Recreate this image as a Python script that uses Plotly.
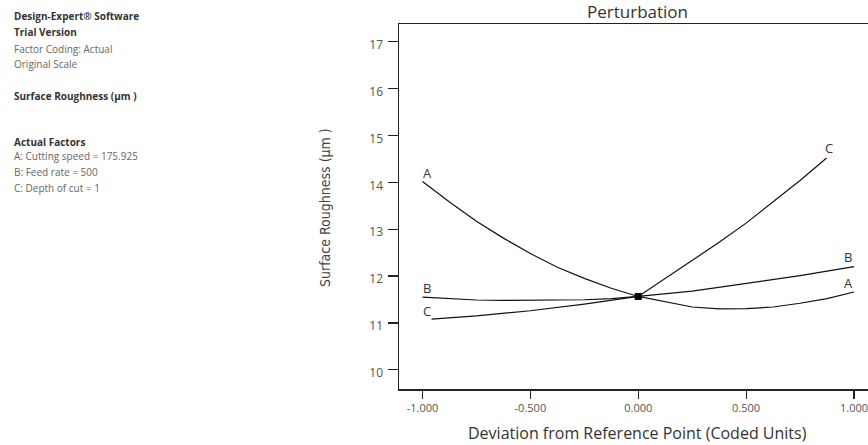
import plotly.graph_objects as go

# ---- data ----
A_x = [-1.0, -0.875, -0.75, -0.625, -0.5, -0.375, -0.25, -0.125, 0.0, 0.25, 0.375, 0.5, 0.625, 0.75, 0.875, 1.0]
A_y = [14.02, 13.58, 13.17, 12.81, 12.48, 12.19, 11.95, 11.74, 11.565, 11.34, 11.30, 11.305, 11.34, 11.42, 11.52, 11.66]

B_x = [-1.0, -0.875, -0.75, -0.625, -0.5, -0.375, -0.25, -0.125, 0.0, 0.25, 0.5, 0.75, 1.0]
B_y = [11.55, 11.52, 11.49, 11.48, 11.48, 11.485, 11.495, 11.52, 11.565, 11.68, 11.84, 12.01, 12.20]

C_x = [-0.958, -0.75, -0.5, -0.25, 0.0, 0.125, 0.25, 0.375, 0.5, 0.625, 0.75, 0.873]
C_y = [11.08, 11.15, 11.26, 11.40, 11.565, 11.95, 12.33, 12.72, 13.13, 13.58, 14.04, 14.52]

ref_x = [0.0]
ref_y = [11.565]

curve_labels = ["A", "A", "B", "B", "C", "C"]
label_x = [-0.977, 0.974, -0.977, 0.974, -0.977, 0.884]
label_y = [14.21, 11.85, 11.745, 12.41, 11.245, 14.735]

x_ticks = [-1.0, -0.5, 0.0, 0.5, 1.0]
x_ticktext = ["-1.000", "-0.500", "0.000", "0.500", "1.000"]
y_ticks = [10, 11, 12, 13, 14, 15, 16, 17]

info_lines = [
    ("Design-Expert® Software", True, 16),
    ("Trial Version", True, 32),
    ("Factor Coding: Actual", False, 49),
    ("Original Scale", False, 64),
    ("Surface Roughness (µm )", True, 96),
    ("Actual Factors", True, 142),
    ("A: Cutting speed = 175.925", False, 156),
    ("B: Feed rate = 500", False, 172),
    ("C: Depth of cut = 1", False, 188),
]

# ---- layout constants ----
W, H = 868, 445
ML, MR, MT, MB = 399, 0, 24, 56
PW = W - ML - MR
PH = H - MT - MB

def px_to_paper_x(px):
    return (px - ML) / PW

def px_to_paper_y(py):
    return (H - MB - py) / PH

FONT = "Open Sans, Noto Sans, sans-serif"

fig = go.Figure()
line_style = dict(color="#111111", width=1.2)
for xs, ys in [(A_x, A_y), (B_x, B_y), (C_x, C_y)]:
    fig.add_trace(go.Scatter(x=xs, y=ys, mode="lines", line=line_style,
                             hoverinfo="skip", showlegend=False))
fig.add_trace(go.Scatter(x=ref_x, y=ref_y, mode="markers",
                         marker=dict(symbol="square", size=7, color="#000000"),
                         hoverinfo="skip", showlegend=False))

annotations = []
for t, x, y in zip(curve_labels, label_x, label_y):
    annotations.append(dict(x=x, y=y, xref="x", yref="y", text=t, showarrow=False,
                            font=dict(family=FONT, size=13, color="#333333"),
                            xanchor="center", yanchor="middle"))

for text, bold, py in info_lines:
    annotations.append(dict(
        x=px_to_paper_x(12), y=px_to_paper_y(py), xref="paper", yref="paper",
        text=f"<b>{text}</b>" if bold else text, showarrow=False,
        xanchor="left", yanchor="middle",
        font=dict(family=FONT, size=10, color="#333333" if bold else "#666666")))

# title
annotations.append(dict(x=px_to_paper_x(637), y=px_to_paper_y(12), xref="paper", yref="paper",
                        text="Perturbation", showarrow=False, xanchor="center", yanchor="middle",
                        font=dict(family=FONT, size=17, color="#333333")))
# x axis title
annotations.append(dict(x=px_to_paper_x(637), y=px_to_paper_y(433), xref="paper", yref="paper",
                        text="Deviation from Reference Point (Coded Units)", showarrow=False,
                        xanchor="center", yanchor="middle",
                        font=dict(family=FONT, size=16, color="#333333")))
# y axis title
annotations.append(dict(x=px_to_paper_x(325), y=px_to_paper_y(208), xref="paper", yref="paper",
                        text="Surface Roughness (µm )", showarrow=False, textangle=-90,
                        xanchor="center", yanchor="middle",
                        font=dict(family="Liberation Sans Narrow, DejaVu Sans Condensed, Open Sans, sans-serif",
                                  size=14, color="#444444")))

fig.update_layout(
    width=W, height=H,
    margin=dict(l=ML, r=MR, t=MT, b=MB, pad=0),
    paper_bgcolor="white", plot_bgcolor="white",
    annotations=annotations,
    hovermode=False,
    xaxis=dict(range=[-1.109, 1.065], tickvals=x_ticks, ticktext=x_ticktext,
               showgrid=False, zeroline=False, showline=True, linecolor="#222222", linewidth=1.5,
               mirror=True, ticks="outside", ticklen=8, tickwidth=1.2, tickcolor="#222222",
               ticklabeloverflow="allow",
               tickfont=dict(family=FONT, size=11, color="#555555"), fixedrange=True),
    yaxis=dict(range=[9.59, 17.38], tickvals=y_ticks,
               showgrid=False, zeroline=False, showline=True, linecolor="#222222", linewidth=1.5,
               mirror=False, ticks="outside", ticklen=10, tickwidth=1.2, tickcolor="#222222",
               ticklabelshift=3, ticklabelstandoff=2,
               tickfont=dict(family=FONT, size=12, color="#555555"), fixedrange=True),
)

fig.write_html("out.html", config={"displayModeBar": False, "staticPlot": True})
